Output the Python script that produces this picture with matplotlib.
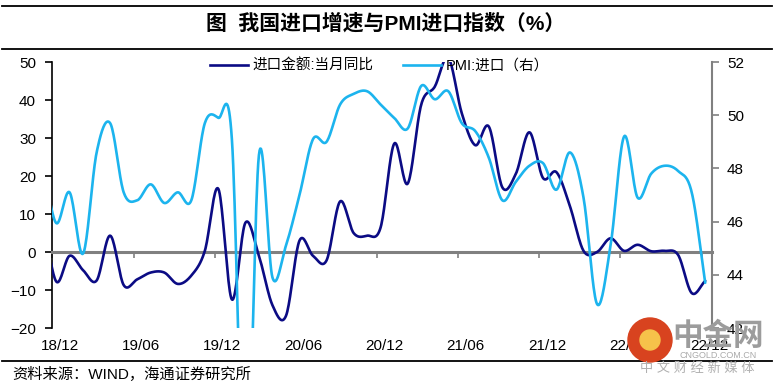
import numpy as np
import pandas as pd
import matplotlib
matplotlib.use("Agg")
import matplotlib.pyplot as plt
from matplotlib.lines import Line2D
from matplotlib.patches import Circle

plt.rcParams['font.family'] = ['Liberation Sans', 'Noto Sans CJK SC', 'DejaVu Sans']

# ==========================================
# DATA (monthly, 2018-11 .. 2022-12; 2018-11 sits just left of the axis)
# ==========================================
MONTHS = pd.period_range("2018-11", "2022-12", freq="M")

IMPORT_YOY = [10.0, -7.7, -1.0, -4.8, -7.5, 4.3, -8.7, -7.2, -5.4, -5.4,
              -8.4, -6.2, 0.3, 16.6, -12.5, 7.7, -1.0, -14.0, -16.8, 3.0,
              -1.0, -2.2, 13.3, 5.0, 4.3, 6.5, 28.5, 18.0, 38.8, 43.5,
              51.1, 36.5, 28.1, 33.0, 17.0, 20.6, 31.5, 19.5, 21.0, 12.0,
              0.3, 0.0, 3.6, 0.3, 1.9, 0.2, 0.3, -0.8, -10.8, -7.6]

PMI_IMPORT = [48.3, 45.95, 47.1, 44.8, 48.6, 49.7, 47.1, 46.8, 47.4, 46.7,
              47.1, 46.8, 49.7, 49.9, 49.1, 35.0, 48.5, 43.9, 45.1, 47.0,
              49.1, 49.0, 50.4, 50.8, 50.9, 50.4, 49.9, 49.5, 51.1, 50.6,
              50.9, 49.7, 49.4, 48.4, 46.8, 47.5, 48.1, 48.2, 47.2, 48.6,
              46.9, 42.9, 45.1, 49.2, 46.9, 47.8, 48.1, 47.9, 47.1, 43.7]

TICK_MONTHS = ["18/12", "19/06", "19/12", "20/06", "20/12", "21/06", "21/12", "22/06", "22/12"]

NAVY = '#0b0b84'
SKY = '#1cb4ee'
GREY = '#808080'


def smooth(y, n=20):
    """Excel-like smoothed line (Catmull-Rom through every monthly value)."""
    y = np.asarray(y, float)
    x = np.arange(len(y)) - 1.0          # index 0 -> 2018-11 at x = -1
    m = np.gradient(y)
    t = np.linspace(0, 1, n, endpoint=False)
    h00 = 2 * t**3 - 3 * t**2 + 1
    h10 = t**3 - 2 * t**2 + t
    h01 = -2 * t**3 + 3 * t**2
    h11 = t**3 - t**2
    xs, ys = [], []
    for i in range(len(y) - 1):
        xs.append(x[i] + t)
        ys.append(h00 * y[i] + h10 * m[i] + h01 * y[i + 1] + h11 * m[i + 1])
    xs.append([x[-1]])
    ys.append([y[-1]])
    return np.concatenate(xs), np.concatenate(ys)


# ==========================================
# FIGURE
# ==========================================
fig = plt.figure(figsize=(7.74, 3.87), dpi=100)
ax = fig.add_axes([52 / 774, 1 - 328 / 387, 660 / 774, 266 / 387])
ax2 = ax.twinx()

xi, yi = smooth(IMPORT_YOY)
xp, yp = smooth(PMI_IMPORT)
ax.plot(xi, yi, color=NAVY, lw=1.9, zorder=3, solid_capstyle='round')
ax2.plot(xp, yp, color=SKY, lw=1.9, zorder=3, solid_capstyle='round')

ax.set_xlim(-0.3, 48.5)
ax.set_ylim(-20, 50)
ax2.set_ylim(42, 52)
ax.set_yticks(np.arange(-20, 51, 10))
ax2.set_yticks(np.arange(42, 53, 2))

# spines
for s in ['top', 'right']:
    ax.spines[s].set_visible(False)
for s in ['top', 'left', 'bottom']:
    ax2.spines[s].set_visible(False)
ax.spines['left'].set_color('black')
ax.spines['left'].set_linewidth(1.2)
ax2.spines['right'].set_color(GREY)
ax2.spines['right'].set_linewidth(1.5)
ax.spines['bottom'].set_position(('data', 0))
ax.spines['bottom'].set_color(GREY)
ax.spines['bottom'].set_linewidth(2.2)

# tick marks on the zero line, labels at the bottom
ax.set_xticks([6 * k - 0.27 for k in range(len(TICK_MONTHS))])
ax.tick_params(axis='x', direction='out', length=4, width=1.2, color=GREY, labelbottom=False)
sec = ax.secondary_xaxis('bottom')
sec.set_xticks([6 * k + 0.3 for k in range(len(TICK_MONTHS))], TICK_MONTHS)
sec.tick_params(length=0, pad=8, labelsize=11)
sec.spines['bottom'].set_visible(False)

ax.tick_params(axis='y', direction='out', length=5, width=1.2, pad=6.5, labelsize=11)
ax2.tick_params(axis='y', direction='out', length=5, width=1.2, color=GREY, pad=5.8, labelsize=11)

# legend
handles = [Line2D([], [], color=NAVY, lw=1.9), Line2D([], [], color=SKY, lw=1.9)]
fig.legend(handles, ['进口金额:当月同比', 'PMI:进口（右）'], loc='center left',
           bbox_to_anchor=(210 / 774, 1 - 66 / 387), ncol=2, frameon=False,
           fontsize=10.5, handlelength=2.6, handletextpad=0.34, columnspacing=2.0,
           borderpad=0, borderaxespad=0)

# title block
fig.add_artist(Line2D([0.003, 0.997], [1 - 6 / 387] * 2, color='black', lw=1.3))
fig.add_artist(Line2D([0.003, 0.997], [1 - 49 / 387] * 2, color='black', lw=1.3))
fig.text(386 / 774, 1 - 23 / 387, '图  我国进口增速与PMI进口指数（%）',
         ha='center', va='center', fontsize=15, fontweight='bold')

# source
fig.add_artist(Line2D([0.003, 0.997], [1 - 361 / 387] * 2, color='black', lw=1.3))
fig.text(12 / 774, 1 - 374 / 387, '资料来源：WIND，海通证券研究所',
         ha='left', va='center', fontsize=11)

# watermark
fig.add_artist(Circle((650 / 100, (387 - 340) / 100), 0.22, transform=fig.dpi_scale_trans,
                      color='#d8431f', zorder=5))
fig.add_artist(Circle((650 / 100, (387 - 340) / 100), 0.1, transform=fig.dpi_scale_trans,
                      color='#f6c24a', zorder=6))
fig.text(718 / 774, 1 - 337 / 387, '中金网', ha='center', va='center', fontsize=22,
         fontweight='bold', color='#9c9c9c', zorder=6)
fig.text(718 / 774, 1 - 355 / 387, 'CNGOLD.COM.CN', ha='center', va='center', fontsize=6.5,
         color='#aaaaaa', zorder=6)
fig.text(697 / 774, 1 - 369 / 387, '中 文 财 经 新 媒 体', ha='center', va='center', fontsize=9.5,
         color='#b0b0b0', zorder=6)

fig.savefig("out.png", dpi=100)
